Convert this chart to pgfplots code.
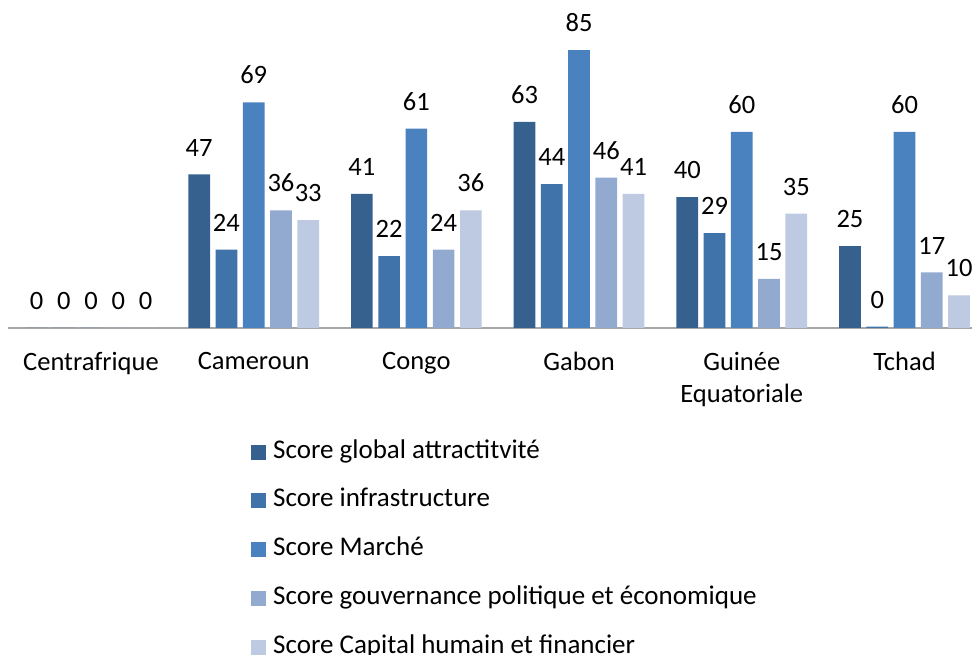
\documentclass[border=0pt]{standalone}
\usepackage{pgfplots}
\pgfplotsset{compat=1.18}
\usepackage{fontspec}
\setmainfont{Carlito}
\definecolor{c1}{HTML}{36618F}
\definecolor{c2}{HTML}{3F73A9}
\definecolor{c3}{HTML}{4A81BF}
\definecolor{c4}{HTML}{93AAD0}
\definecolor{c5}{HTML}{BDCAE2}
\definecolor{axisgray}{HTML}{A6A6A6}
\newcommand{\lbl}{\fontsize{26.5bp}{32bp}\selectfont}
\newcommand{\leg}{\fontsize{27bp}{32bp}\selectfont}
\begin{document}
\begin{tikzpicture}[x=1bp,y=1bp]
\useasboundingbox (0,0) rectangle (972,655);
\begin{axis}[
  at={(8bp,327bp)}, anchor=south west,
  scale only axis, width=964bp, height=310.65bp,
  xmin=-0.51, xmax=5.415, ymin=0, ymax=95,
  axis y line=none, axis x line=bottom,
  x axis line style={-, draw=axisgray, line width=1.3bp},
  xtick={0,1,2,3,4,5},
  xticklabels={Centrafrique, Cameroun, Congo, Gabon, {Guinée\\Equatoriale}, Tchad},
  xticklabel style={align=center, font=\lbl, text=black, inner sep=0pt, anchor=north, yshift=-24bp},
  major tick length=0pt,
  /pgf/number format/assume math mode=true,
  ybar, bar width=0.1334,
  nodes near coords={\pgfmathprintnumber[fixed,precision=0,assume math mode=true]{\pgfplotspointmeta}},
  every node near coord/.append style={font=\lbl, text=black, anchor=south, inner sep=0pt, yshift=18bp},
  legend style={at={(axis description cs:0.2521,-0.3605)}, anchor=north west, draw=none, fill=none,
    inner sep=0pt, row sep=24.8bp, column sep=7bp,
    nodes={inner sep=0pt, text height=18bp, text depth=6bp, font=\leg, text=black}},
  legend cell align=left,
  legend image code/.code={\fill[#1,draw=none] (0bp,-7.5bp) rectangle (15bp,7.5bp);},
  clip=false,
]
\addplot[fill=c1, draw=none, bar shift=-0.335] coordinates {(0,0) (1,47) (2,41) (3,63) (4,40) (5,25)};
\addplot[fill=c2, draw=none, bar shift=-0.1675] coordinates {(0,0) (1,24) (2,22) (3,44) (4,29) (5,0.4)};
\addplot[fill=c3, draw=none, bar shift=0] coordinates {(0,0) (1,69) (2,61) (3,85) (4,60) (5,60)};
\addplot[fill=c4, draw=none, bar shift=0.1675] coordinates {(0,0) (1,36) (2,24) (3,46) (4,15) (5,17)};
\addplot[fill=c5, draw=none, bar shift=0.335] coordinates {(0,0) (1,33) (2,36) (3,41) (4,35) (5,10)};
\legend{Score global attractitvité, Score infrastructure, Score Marché, Score gouvernance politique et économique, Score Capital humain et financier}
\end{axis}
\end{tikzpicture}
\end{document}
